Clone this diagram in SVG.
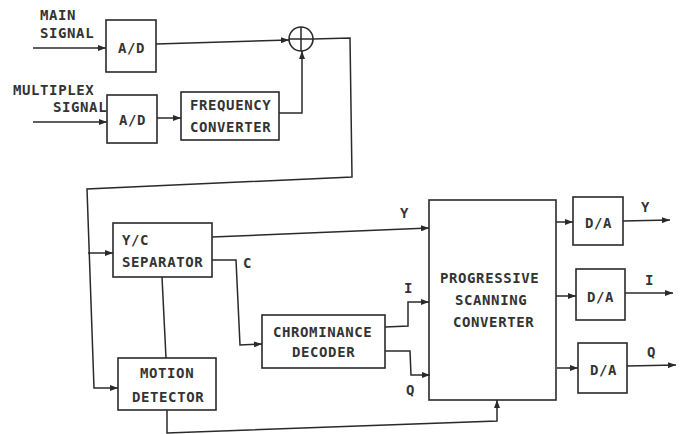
<svg xmlns="http://www.w3.org/2000/svg" width="687" height="434" viewBox="0 0 687 434">
<style>
  .box { fill: none; stroke: #2a2a2a; stroke-width: 1.6; }
  .ln { fill: none; stroke: #2a2a2a; stroke-width: 1.5; }
  text { font-family: "DejaVu Sans Mono", "Liberation Mono", monospace; font-weight: bold; font-size: 14px; letter-spacing: 0.6px; fill: #333; }
</style>
<defs>
  <marker id="arr" markerUnits="userSpaceOnUse" markerWidth="8" markerHeight="6" refX="8" refY="3" orient="auto">
    <path d="M0,0 L8,3 L0,6 z" fill="#2a2a2a"/>
  </marker>
</defs>
<rect width="687" height="434" fill="#fff"/>

<g id="labels-in">
  <text x="40" y="20">MAIN</text>
  <text x="40" y="38">SIGNAL</text>
  <text x="13" y="95">MULTIPLEX</text>
  <text x="53" y="112">SIGNAL</text>
</g>

<g id="ad1"><rect class="box" x="106" y="20" width="50" height="52"/><text x="118" y="53">A/D</text></g>
<g id="ad2"><rect class="box" x="107" y="95" width="50" height="48"/><text x="119" y="125">A/D</text></g>
<g id="freqconv"><rect class="box" x="181" y="92" width="98" height="48"/><text x="190" y="110">FREQUENCY</text><text x="190" y="132">CONVERTER</text></g>
<g id="adder"><circle class="box" cx="301" cy="39" r="12"/><path class="ln" d="M289,39 L313,39 M301,27 L301,51"/></g>
<g id="ycsep"><rect class="box" x="113" y="223" width="99" height="54"/><text x="122" y="245">Y/C</text><text x="122" y="267">SEPARATOR</text></g>
<g id="motion"><rect class="box" x="118" y="358" width="98" height="52"/><text x="140" y="378">MOTION</text><text x="132" y="402">DETECTOR</text></g>
<g id="chroma"><rect class="box" x="262" y="315" width="123" height="53"/><text x="273" y="337">CHROMINANCE</text><text x="292" y="357">DECODER</text></g>
<g id="psc"><rect class="box" x="429" y="200" width="127" height="200"/><text x="440" y="283">PROGRESSIVE</text><text x="455" y="305">SCANNING</text><text x="453" y="327">CONVERTER</text></g>
<g id="da1"><rect class="box" x="573" y="197" width="50" height="48"/><text x="585" y="228">D/A</text></g>
<g id="da2"><rect class="box" x="576" y="269" width="49" height="51"/><text x="587" y="302">D/A</text></g>
<g id="da3"><rect class="box" x="578" y="343" width="49" height="50"/><text x="590" y="375">D/A</text></g>

<g id="connectors">
  <path class="ln" marker-end="url(#arr)" d="M33,48 L106,48"/>
  <path class="ln" marker-end="url(#arr)" d="M156,44 L289,40"/>
  <path class="ln" marker-end="url(#arr)" d="M313,39 L350,38 L352,177 L87,189 L94,388 L118,388"/>
  <path class="ln" marker-end="url(#arr)" d="M88,253 L113,253"/>
  <path class="ln" marker-end="url(#arr)" d="M33,122 L107,122"/>
  <path class="ln" marker-end="url(#arr)" d="M157,118 L181,118"/>
  <path class="ln" marker-end="url(#arr)" d="M279,113 L302,113 L302,51"/>
  <path class="ln" marker-end="url(#arr)" d="M212,237 L429,228"/>
  <path class="ln" marker-end="url(#arr)" d="M212,260 L236,260 L240,345 L262,344"/>
  <path class="ln" marker-end="url(#arr)" d="M385,327 L408,326 L408,302 L429,302"/>
  <path class="ln" marker-end="url(#arr)" d="M385,351 L410,351 L411,375 L430,375"/>
  <path class="ln" d="M162,277 L166,358"/>
  <path class="ln" marker-end="url(#arr)" d="M167,410 L167,433 L497,421 L497,400"/>
  <path class="ln" marker-end="url(#arr)" d="M556,222 L573,222"/>
  <path class="ln" marker-end="url(#arr)" d="M556,296 L576,296"/>
  <path class="ln" marker-end="url(#arr)" d="M557,368 L578,368"/>
  <path class="ln" marker-end="url(#arr)" d="M623,221 L670,220"/>
  <path class="ln" marker-end="url(#arr)" d="M625,293 L673,293"/>
  <path class="ln" marker-end="url(#arr)" d="M627,366 L676,365"/>
</g>

<g id="signal-labels">
  <text x="400" y="218">Y</text>
  <text x="243" y="268">C</text>
  <text x="404" y="293">I</text>
  <text x="406" y="395">Q</text>
  <text x="641" y="212">Y</text>
  <text x="645" y="285">I</text>
  <text x="647" y="357">Q</text>
</g>
</svg>
